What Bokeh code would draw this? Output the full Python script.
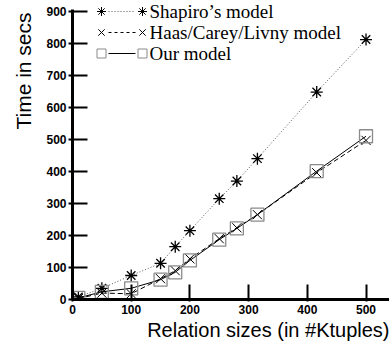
from bokeh.plotting import figure
from bokeh.models import Range1d, Label, FixedTicker, Title
from bokeh.embed import file_html
from bokeh.resources import INLINE

# ---- data ----
sizes = [10, 50, 100, 150, 175, 200, 250, 280, 315, 416, 500]
shapiro = [8, 35, 75, 113, 165, 215, 315, 370, 440, 648, 812]
haas = [3, 20, 18, 65, 90, 127, 190, 224, 265, 396, 497]
ours = [5, 24, 35, 62, 85, 122, 187, 222, 265, 401, 510]
x_ticks = [0, 100, 200, 300, 400, 500]
y_ticks = [0, 100, 200, 300, 400, 500, 600, 700, 800, 900]
series_names = ["Shapiro\u2019s model", "Haas/Carey/Livny model", "Our model"]
x_title = "Relation sizes (in #Ktuples)"
y_title = "Time in secs"

FW, FH = 317, 299
p = figure(width=389, height=343, x_range=Range1d(0, 540), y_range=Range1d(0, 934),
           output_backend="svg", toolbar_location=None,
           min_border_left=72, min_border_right=0, min_border_top=0, min_border_bottom=44)
p.xgrid.visible = False
p.ygrid.visible = False
p.outline_line_color = None
p.background_fill_color = None

p.xaxis.ticker = FixedTicker(ticks=x_ticks)
p.yaxis.ticker = FixedTicker(ticks=y_ticks)
p.yaxis.bounds = (0, 906)
for ax in (p.xaxis, p.yaxis):
    ax.axis_line_width = 3
    ax.axis_line_color = "black"
    ax.major_tick_line_width = 2
    ax.major_tick_line_color = "black"
    ax.minor_tick_line_color = None
    ax.major_tick_in = 15
    ax.major_label_text_font = "Liberation Sans"
    ax.major_label_text_font_style = "bold"
    ax.major_label_text_font_size = "12px"
    ax.major_label_text_color = "black"
p.yaxis.major_tick_out = 4
p.yaxis.major_label_standoff = 2
p.xaxis.major_tick_out = 2
p.xaxis.major_label_standoff = 3

GRAY = "#8a8a8a"

# ---- series ----
p.line(sizes, shapiro, line_color="#555555", line_width=1, line_dash="1 2")
p.scatter(sizes, shapiro, marker="asterisk", size=12, line_color="black", line_width=1.3)

p.line(sizes, haas, line_color="black", line_width=1, line_dash="5 3")
p.scatter(sizes, haas, marker="x", size=13, line_color="black", line_width=1)

p.line(sizes, ours, line_color="black", line_width=1)
p.scatter(sizes, ours, marker="square", size=13, line_color=GRAY, fill_color=None, line_width=1.3)

# ---- legend (frame-pixel coordinates) ----
p.extra_x_ranges = {"lx": Range1d(0, FW)}
p.extra_y_ranges = {"ly": Range1d(0, FH)}
rows = [288, 267, 246]
styles = [
    dict(marker="asterisk", mcolor="black", lcolor="#555555", dash="1 2"),
    dict(marker="x", mcolor="black", lcolor="black", dash="3 3"),
    dict(marker="square", mcolor=GRAY, lcolor="black", dash="solid"),
]
for ry, st, name in zip(rows, styles, series_names):
    p.line([36, 63], [ry, ry], x_range_name="lx", y_range_name="ly",
           line_color=st["lcolor"], line_width=1, line_dash=st["dash"])
    p.scatter([29, 70], [ry, ry], x_range_name="lx", y_range_name="ly",
              marker=st["marker"], size=9, line_color=st["mcolor"], fill_color=None, line_width=1)
    p.add_layout(Label(x=77, y=ry, x_units="screen", y_units="screen", text=name,
                       text_font="Liberation Serif", text_font_size="19px",
                       text_baseline="middle", text_align="left", text_color="black"))

# ---- axis titles ----
p.add_layout(Title(text=x_title, align="right", text_font="Liberation Sans", standoff=0,
                   text_font_size="20px", text_font_style="normal", text_color="black"), "below")
p.add_layout(Title(text=y_title, align="right", text_font="Liberation Sans", standoff=18,
                   offset=12, text_font_size="21px", text_font_style="normal",
                   text_color="black"), "left")

open("out.html", "w").write(file_html(p, INLINE))
